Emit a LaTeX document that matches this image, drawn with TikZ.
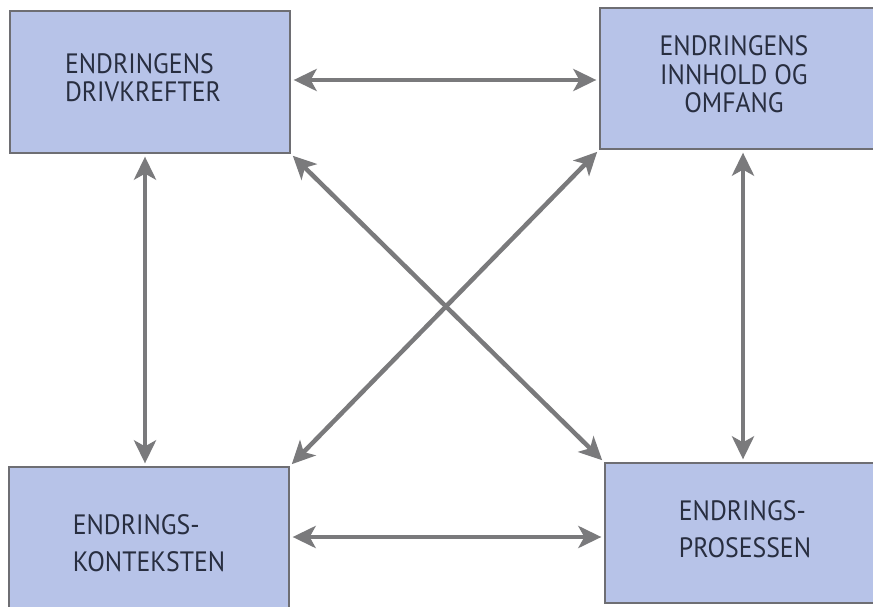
\documentclass[tikz,border=0pt]{standalone}
\usepackage{fontspec}
\setmainfont{PT Sans}[FakeStretch=0.92]
\usetikzlibrary{arrows.meta}

\definecolor{boxfill}{RGB}{183,195,232}
\definecolor{boxline}{RGB}{110,110,115}
\definecolor{arrowgray}{RGB}{122,122,124}
\definecolor{textnavy}{RGB}{40,46,64}

\tikzset{
  box/.style={draw=boxline, line width=1.3pt, fill=boxfill, text=textnavy,
    minimum width=280pt, font=\fontsize{28}{28}\selectfont},
  link/.style={draw=arrowgray, line width=4.5pt,
    {Stealth[length=23pt,width=22pt,inset=6pt]}-{Stealth[length=23pt,width=22pt,inset=6pt]},
    shorten <=3pt, shorten >=3pt}
}

\begin{document}
\begin{tikzpicture}[x=1pt,y=-1pt]
      \useasboundingbox (0,0) rectangle (873,607);

      \node[box, minimum height=142pt] (drivers) at (150,82)
        {\begin{tabular}{@{}l@{}}ENDRINGENS\\DRIVKREFTER\end{tabular}\hspace*{14pt}};
      % right-hand boxes run past the page edge
      \node[box, minimum width=340pt, minimum height=141pt] (content) at (770,78.5)
        {\begin{tabular}{@{}c@{}}ENDRINGENS\\INNHOLD OG\\OMFANG\end{tabular}\hspace*{72pt}};
      \node[box, minimum height=152pt, align=left,
        font=\fontsize{28}{37}\selectfont] (context) at (149,543)
        {ENDRINGS-\\KONTEKSTEN};
      \node[box, minimum width=340pt, minimum height=140pt] (process) at (775,533)
        {\begin{tabular}{@{}l@{}}ENDRINGS-\\[9pt]PROSESSEN\end{tabular}\hspace*{60pt}};

      \draw[link] ([yshift=2pt]drivers.east) -- ([yshift=2pt]drivers.east -| content.west);
      \draw[link] ([yshift=6pt]context.east) -- ([yshift=6pt]context.east -| process.west);

      \draw[link] ([xshift=-5pt]drivers.south) -- ([xshift=-5pt]drivers.south |- context.north);
      \draw[link] ([xshift=-32pt]process.north |- content.south) -- ([xshift=-32pt]process.north);

      \draw[link] (drivers.south east) -- (process.north west);
      \draw[link] (content.south west) -- (context.north east);
    \end{tikzpicture}
\end{document}
